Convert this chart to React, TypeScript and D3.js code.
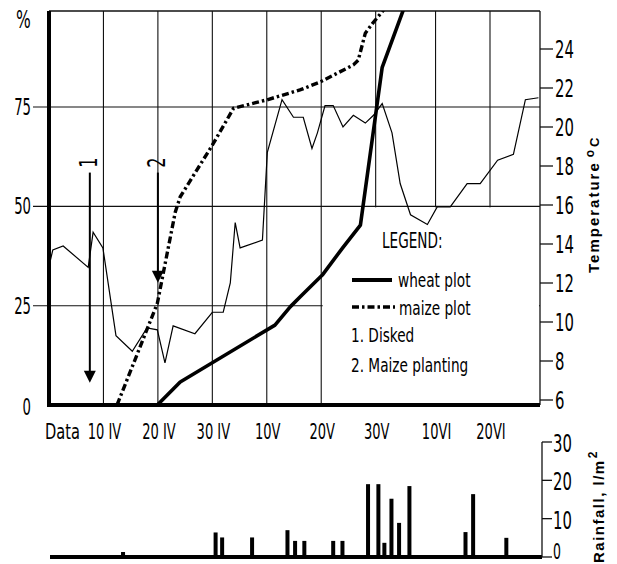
import React from "react";
import * as d3 from "d3";

// day = days counted from 31 March
const tickDays = [10, 20, 30, 40, 50, 60, 71, 81];
const tickLabels = ["10 IV", "20 IV", "30 IV", "10V", "20V", "30V", "10VI", "20VI"];
const pctTicks = [0, 25, 50, 75];
const tempTicks = [6, 8, 10, 12, 14, 16, 18, 20, 22, 24];
const rainTicks = [0, 10, 20, 30];

const tempDay = [0.2, 0.7, 2.6, 7.2, 8.1, 9.9, 12.3, 15.3, 18.0, 19.9, 21.3, 22.8, 26.8, 30.0, 32.0, 33.3, 34.2, 35.1, 39.2, 40.1, 42.8, 44.9, 46.7, 48.3, 49.3, 50.7, 52.2, 54.0, 55.9, 58.1, 59.6, 61.2, 63.0, 64.5, 66.4, 69.5, 71.3, 73.7, 76.8, 79.2, 82.4, 85.3, 87.5, 89.9];
const tempC = [13.1, 13.7, 13.9, 12.8, 14.6, 13.8, 9.3, 8.5, 9.7, 9.6, 7.9, 9.8, 9.4, 10.5, 10.5, 12.0, 15.1, 13.8, 14.2, 18.7, 21.4, 20.5, 20.5, 18.9, 19.7, 21.1, 21.1, 20.0, 20.6, 20.2, 20.6, 21.2, 19.7, 17.1, 15.5, 15.0, 15.9, 15.9, 17.1, 17.1, 18.3, 18.6, 21.4, 21.5];

const wheatDay = [19.9, 24.1, 41.5, 44.3, 46.1, 50.2, 53.9, 57.2, 61.2, 65.5];
const wheatPct = [0, 5.8, 20.1, 24.7, 27.2, 32.7, 39.5, 45.3, 85, 101];

const maizeDay = [12.5, 19.9, 23.2, 24.1, 30, 33.9, 40, 46.1, 49.8, 55.9, 56.8, 58.1, 59.4, 61.8];
const maizePct = [0, 25.6, 48.6, 52.4, 65.4, 74.7, 76.8, 79.3, 81.3, 85.6, 86.8, 93.6, 96, 100];

const rainDay = [13.6, 30.6, 31.8, 37.3, 43.8, 45.2, 46.9, 52.2, 53.9, 58.6, 60.5, 61.6, 62.9, 64.3, 66.2, 76.5, 77.9, 84.0];
const rainMm = [1.3, 6.4, 5.1, 5.1, 7.0, 4.2, 4.2, 4.2, 4.2, 19.0, 19.0, 3.7, 15.2, 8.9, 18.5, 6.5, 16.4, 5.0];

const arrowDay = [7.5, 20];
const arrowTip = [5.6, 30.8];
const arrowTop = 58.5;
const arrowLabels = ["1", "2"];

const NARROW = "'Liberation Sans Narrow', 'Arial Narrow', 'DejaVu Sans Condensed', sans-serif";
const BOLD = "'Liberation Sans', Arial, sans-serif";

function T(props: any) {
  const { x, y, size, sx = 0.75, anchor = "start", rot = 0, children } = props;
  return (
    <text
      transform={`translate(${x},${y}) rotate(${rot}) scale(${sx},1)`}
      fontSize={size}
      fontFamily={NARROW}
      textAnchor={anchor}
      fill="#000"
    >
      {children}
    </text>
  );
}

export default function App() {
  const W = 617, H = 564;
  const left = 49, right = 540, top = 11, bottom = 405;

  const x = d3.scaleLinear().domain([0, 90]).range([left, 539]);
  const yP = d3.scaleLinear().domain([0, 100]).range([bottom, 7.7]);
  const yT = d3.scaleLinear().domain([6, 24]).range([400, 49]);
  const yR = d3.scaleLinear().domain([0, 30]).range([557, 442]);

  const line = d3.line<[number, number]>().x(d => d[0]).y(d => d[1]);
  const tempPath = line(tempDay.map((d, i) => [x(d), yT(tempC[i])]))!;
  const wheatPath = line(wheatDay.map((d, i) => [x(d), yP(wheatPct[i])]))!;
  const maizePath = line(maizeDay.map((d, i) => [x(d), yP(maizePct[i])]))!;

  return (
    <svg width={W} height={H} style={{ position: "absolute", left: 0, top: 0, background: "#fff" }}>
      <defs>
        <clipPath id="plot">
          <rect x={left} y={top} width={right - left} height={bottom - top} />
        </clipPath>
      </defs>

      {/* grid */}
      {tickDays.map(d => (
        <line key={d} x1={x(d)} x2={x(d)} y1={top} y2={bottom} stroke="#111" strokeWidth={1.1} />
      ))}
      {pctTicks.filter(p => p > 0).map(p => (
        <line key={p} x1={33} x2={right} y1={yP(p)} y2={yP(p)} stroke="#111" strokeWidth={1.1} />
      ))}
      <line x1={left} x2={right} y1={top} y2={top} stroke="#111" strokeWidth={1.3} />
      <line x1={right} x2={right} y1={top} y2={bottom} stroke="#111" strokeWidth={1.3} />

      {/* legend background */}
      <rect x={x(50) + 1.5} y={yP(50) + 1} width={right - x(50) - 2.5} height={bottom - yP(50) - 2} fill="#fff" />

      {/* temperature axis */}
      {tempTicks.map(t => (
        <g key={t}>
          <line x1={right} x2={553} y1={yT(t)} y2={yT(t)} stroke="#111" strokeWidth={1.3} />
          <T x={555} y={yT(t) + 9} size={25} sx={0.66}>{t}</T>
        </g>
      ))}

      {/* percent labels */}
      {pctTicks.map(p => (
        <T key={p} x={31} y={yP(p) + (p === 0 ? 10 : 8)} size={23} sx={0.64} anchor="end">{p}</T>
      ))}
      <T x={16} y={28} size={24} sx={0.72}>%</T>

      {/* data lines */}
      <g clipPath="url(#plot)">
        <path d={tempPath} fill="none" stroke="#000" strokeWidth={1.2} />
        <path d={maizePath} fill="none" stroke="#000" strokeWidth={3.4} strokeDasharray="7,3,2.5,3" />
        <path d={wheatPath} fill="none" stroke="#000" strokeWidth={3.6} strokeLinejoin="round" />
      </g>

      {/* arrows */}
      {arrowDay.map((d, i) => {
        const ax = x(d), tip = yP(arrowTip[i]);
        return (
          <g key={i}>
            <line x1={ax} x2={ax} y1={yP(arrowTop)} y2={tip - 10} stroke="#000" strokeWidth={2} />
            <path d={`M${ax - 6},${tip - 12}L${ax + 6},${tip - 12}L${ax},${tip}Z`} fill="#000" />
            <T x={ax + 7} y={yP(arrowTop) - 10} size={24} sx={0.75} anchor="middle" rot={-90}>{arrowLabels[i]}</T>
          </g>
        );
      })}

      {/* axes */}
      <line x1={left} x2={left} y1={top} y2={bottom + 2} stroke="#000" strokeWidth={4} />
      <line x1={left - 2} x2={right} y1={bottom} y2={bottom} stroke="#000" strokeWidth={4} />

      {/* x labels */}
      <T x={45} y={439} size={22} sx={0.74}>Data</T>
      {tickDays.map((d, i) => (
        <T key={d} x={x(d) + 1} y={439} size={22} sx={0.66} anchor="middle">{tickLabels[i]}</T>
      ))}

      {/* legend */}
      <T x={382} y={248} size={21} sx={0.72}>LEGEND:</T>
      <line x1={352} x2={392} y1={280} y2={280} stroke="#000" strokeWidth={4} />
      <T x={398} y={287} size={20} sx={0.76}>wheat plot</T>
      <line x1={352} x2={395} y1={307} y2={307} stroke="#000" strokeWidth={3.4} strokeDasharray="7,3,2.5,3" />
      <T x={399} y={315} size={20} sx={0.76}>maize plot</T>
      <T x={351} y={342} size={20} sx={0.76}>1. Disked</T>
      <T x={351} y={372} size={20} sx={0.76}>2. Maize planting</T>

      {/* temperature title */}
      <text transform="translate(599,273) rotate(-90)" fontFamily={BOLD} fontWeight="bold" fontSize={15} letterSpacing={2}>
        Temperature
        <tspan dx={4} dy={-5} fontSize={12}>o</tspan>
        <tspan dx={1} dy={5} fontSize={13}>C</tspan>
      </text>

      {/* rainfall panel */}
      {rainDay.map((d, i) => (
        <rect key={i} x={x(d) - 2} width={4} y={yR(rainMm[i])} height={yR(0) - yR(rainMm[i])} fill="#000" />
      ))}
      <line x1={50} x2={542} y1={yR(0)} y2={yR(0)} stroke="#000" strokeWidth={4} />
      <line x1={542} x2={542} y1={yR(30)} y2={yR(0)} stroke="#111" strokeWidth={1.3} />
      {rainTicks.map(r => (
        <g key={r}>
          <line x1={542} x2={552} y1={yR(r)} y2={yR(r)} stroke="#111" strokeWidth={1.3} />
          <T x={553} y={r === 0 ? 559 : yR(r) + 10} size={r === 0 ? 21 : 25} sx={0.66}>{r}</T>
        </g>
      ))}
      <text transform="translate(604,563) rotate(-90)" fontFamily={BOLD} fontWeight="bold" fontSize={15} letterSpacing={1.5}>
        Rainfall, l/m
        <tspan dx={1} dy={-7} fontSize={12}>2</tspan>
      </text>
    </svg>
  );
}
